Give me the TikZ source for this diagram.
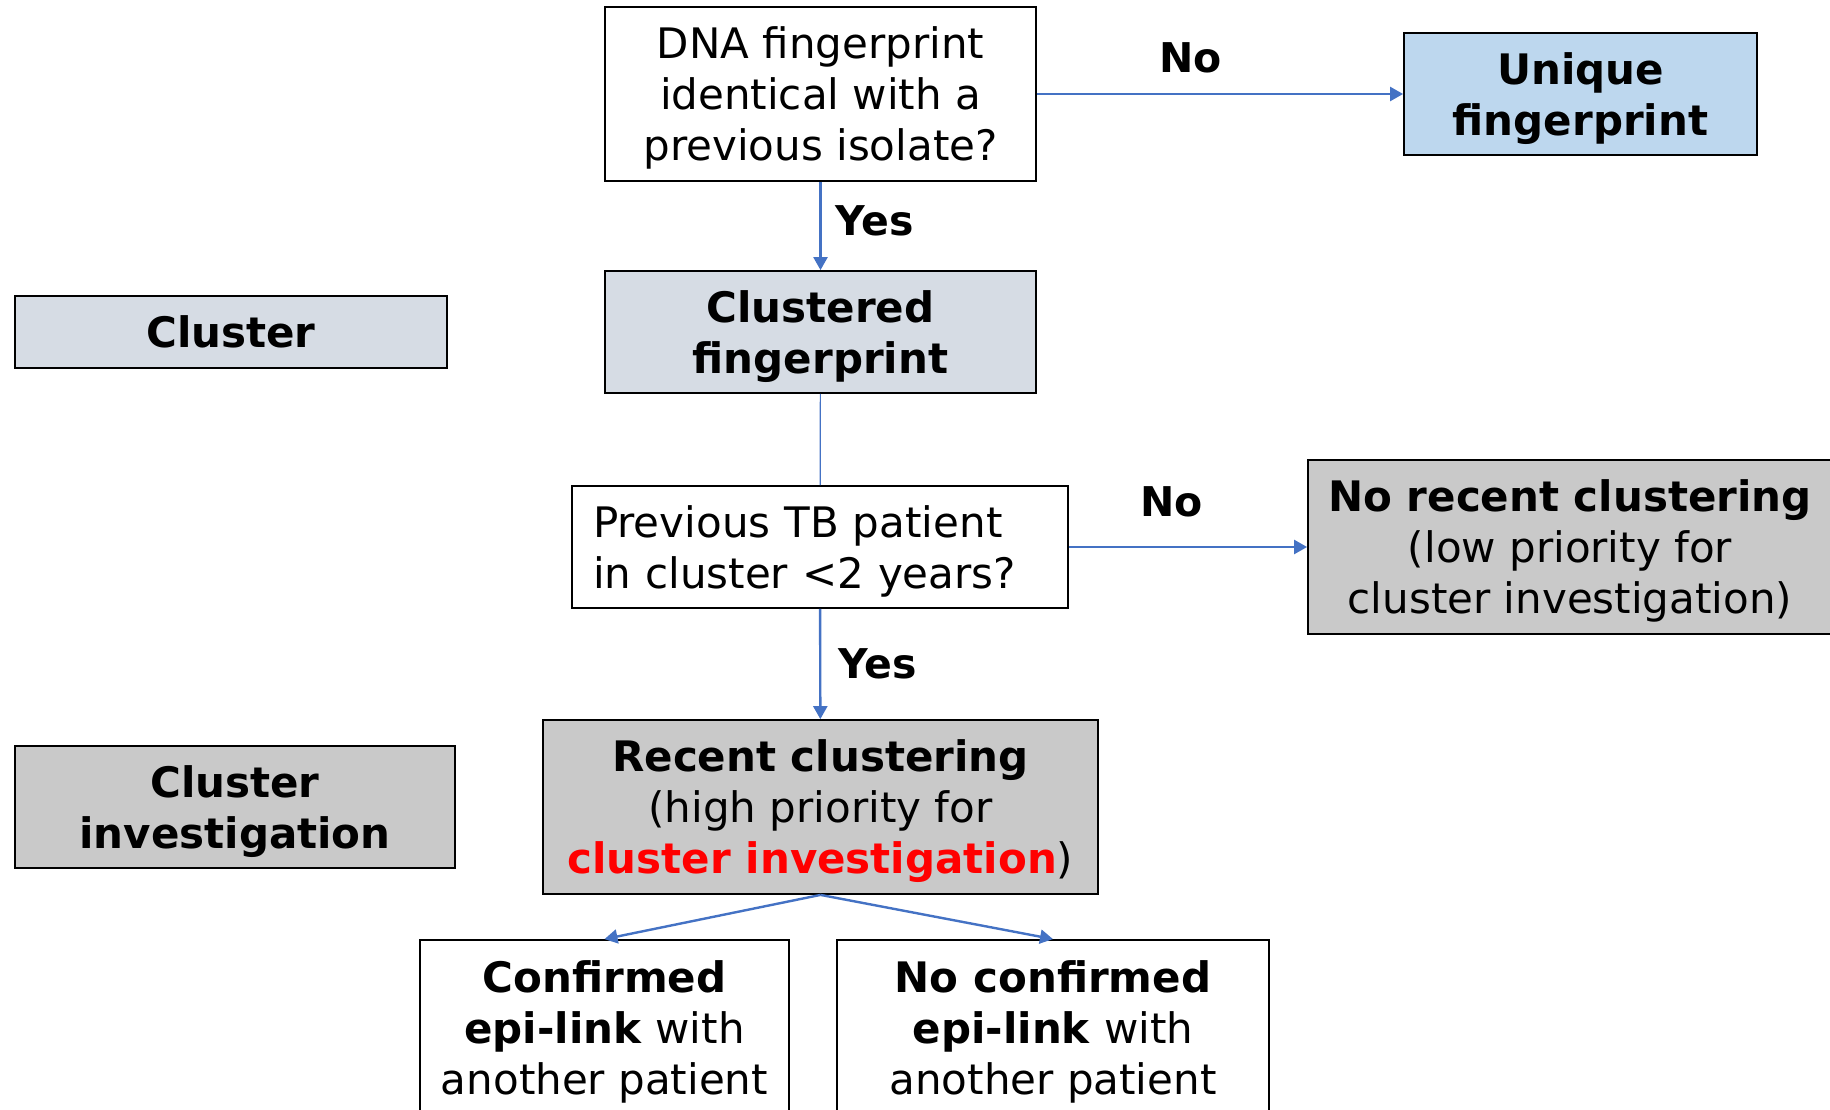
\documentclass[tikz,border=0pt]{standalone}
\usepackage{fontspec}
\setmainfont{DejaVu Sans}
\usetikzlibrary{arrows.meta}
\definecolor{arrowblue}{HTML}{4472C4}
\definecolor{uniqueblue}{HTML}{BDD7EE}
\definecolor{clustgrey}{HTML}{D6DCE4}
\definecolor{boxgrey}{HTML}{C9C9C9}
\begin{document}
\begin{tikzpicture}[x=1pt, y=-1pt,
    every node/.style={inner sep=0pt, font=\fontsize{42}{51}\selectfont},
    box/.style={draw=black, line width=1.8pt, align=center},
    multi/.style={text depth=0pt},
    yesno/.style={font=\fontsize{41}{51}\selectfont\bfseries},
    flow/.style={draw=arrowblue, line width=2.4pt, -{Triangle[length=13pt,width=14pt]}}]
    \useasboundingbox (0,0) rectangle (1830,1110);
    \clip (0,0) rectangle (1830,1110);

    %––––– row 1 –––––
    \node (a1) at (820.5,94) [box, multi, minimum width=431pt, minimum height=174pt] {DNA fingerprint\\identical with a\\previous isolate?};
    \node (a2) at (1580.5,94) [box, multi, fill=uniqueblue, minimum width=353pt, minimum height=122pt] {\bfseries Unique\\\bfseries fingerprint};
    \draw[flow] (a1) -- (a2) node[yesno, pos=0.42, yshift=36pt] {No};

    %––––– row 2 –––––
    \node (b1) at (231,332) [box, fill=clustgrey, minimum width=432pt, minimum height=72pt] {\bfseries Cluster};
    \node (b2) at (820.5,332) [box, multi, fill=clustgrey, minimum width=431pt, minimum height=122pt] {\bfseries Clustered\\\bfseries fingerprint};
    \draw[flow] (a1) -- (b2) node[yesno, midway, anchor=west, xshift=14pt, yshift=5pt] {Yes};

    %––––– row 3 –––––
    \node (c1) at (820,547) [box, text width=454pt, inner xsep=21pt, align=left, minimum height=122pt, text depth=51pt] {Previous TB patient\\in cluster <2 years?};
    \node (c2) at (1570,547) [box, multi, fill=boxgrey, minimum width=524pt, minimum height=174pt] {\bfseries No recent clustering\\(low priority for\\cluster investigation)};
    \draw[draw=arrowblue, line width=1.2pt] (b2) -- (c1);
    \draw[flow] (c1) -- (c2) node[yesno, pos=0.43, yshift=45pt] {No};

    %––––– row 4 –––––
    \node (d1) at (235,807) [box, multi, fill=boxgrey, minimum width=440pt, minimum height=122pt] {\bfseries Cluster\\\bfseries investigation};
    \node (d2) at (820.5,807) [box, multi, fill=boxgrey, minimum width=555pt, minimum height=174pt] {\bfseries Recent clustering\\(high priority for\\{\color{red}\bfseries cluster investigation})};
    \draw[flow] (c1) -- (d2) node[yesno, midway, anchor=west, xshift=17pt] {Yes};

    %––––– row 5 –––––
    \node (e1) at (604.5,1028) [box, multi, minimum width=369pt, minimum height=176pt] {\bfseries Confirmed\\\textbf{epi-link} with\\another patient};
    \node (e2) at (1053,1028) [box, multi, minimum width=432pt, minimum height=176pt] {\bfseries No confirmed\\\textbf{epi-link} with\\another patient};
    \draw[flow] (d2.south) -- (e1.north);
    \draw[flow] (d2.south) -- (e2.north);
\end{tikzpicture}
\end{document}
